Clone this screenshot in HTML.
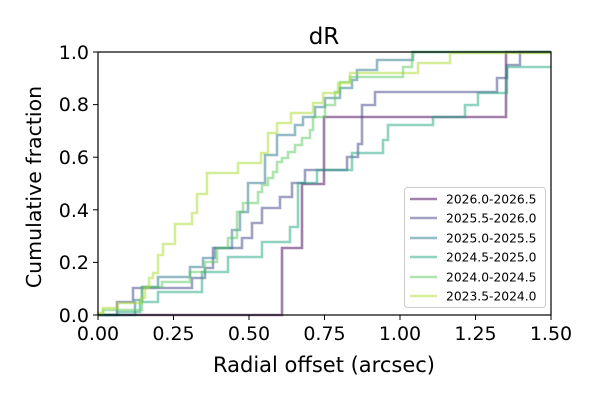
<!DOCTYPE html>
<html><head><style>body{margin:0;background:#fff}svg{display:block}text{font-family:"DejaVu Sans","Liberation Sans",sans-serif}</style></head><body>
<svg width="600" height="400" viewBox="0 0 600 400" xmlns="http://www.w3.org/2000/svg">
<rect width="600" height="400" fill="#fff"/>
<g fill="none" stroke-width="2.6" stroke-opacity="0.5" stroke-linejoin="miter">
<polyline stroke="#440154" points="98,315 282,315 282,248 302,248 302,184 324,184 324,117 506,117 506,52 551,52"/>
<polyline stroke="#414487" points="98,315 117,315 117,302 133,302 133,288 192,288 192,278 205,278 205,268 213,268 213,248 242,248 242,238 252,238 252,223 262,223 262,208 280,208 280,197 292,197 292,183 305,183 305,170 347,170 347,157 358,157 358,144 362,144 362,105 375,105 375,92 497,92 497,78 507,78 507,65 520,65 520,52 551,52"/>
<polyline stroke="#2a788e" points="98,315 135,315 135,300 142,300 142,287 158,287 158,277 190,277 190,267 203,267 203,258 215,258 215,248 232,248 232,230 240,230 240,212 248,212 248,183 265,183 265,155 277,155 277,135 295,135 295,125 303,125 303,117 315,117 315,107 325,107 325,98 340,98 340,88 352,88 352,80 357,80 357,70 377,70 377,60 413,60 413,52 551,52"/>
<polyline stroke="#22a884" points="98,315 118,315 118,312 140,312 140,302 158,302 158,292 202,292 202,272 228,272 228,257 262,257 262,242 290,242 290,227 298,227 298,183 317,183 317,170 352,170 352,153 383,153 383,140 388,140 388,125 433,125 433,117 465,117 465,105 478,105 478,93 507,93 507,67 551,67"/>
<polyline stroke="#5ec962" points="98,315 103,315 103,310 142,310 142,287 162,287 162,282 190,282 190,272 205,272 205,262 217,262 217,248 228,248 228,238 237,238 237,212 243,212 243,203 258,203 258,192 262,192 262,185 268,185 268,178 273,178 273,172 277,172 277,162 282,162 282,158 288,158 288,152 295,152 295,145 302,145 302,138 310,138 310,130 313,130 313,117 325,117 325,105 335,105 335,92 340,92 340,82 350,82 350,77 403,77 403,67 412,67 412,52 551,52"/>
<polyline stroke="#addc30" points="98,315 98,313 103,313 103,308 118,308 118,303 141,303 141,298 145,298 145,288 149,288 149,278 153,278 153,273 158,273 158,255 163,255 163,244 175,244 175,224 192,224 192,213 197,213 197,194 207,194 207,173 238,173 238,163 261,163 261,153 268,153 268,133 277,133 277,123 291,123 291,113 313,113 313,103 323,103 323,93 338,93 338,83 350,83 350,73 418,73 418,63 450,63 450,53 551,53"/>
</g>
<rect x="98" y="52" width="453" height="263" fill="none" stroke="#000" stroke-width="1.2"/>
<g stroke="#000" stroke-width="1">
<line x1="98" y1="315" x2="98" y2="320"/><line x1="173.5" y1="315" x2="173.5" y2="320"/><line x1="249" y1="315" x2="249" y2="320"/><line x1="324.5" y1="315" x2="324.5" y2="320"/><line x1="400" y1="315" x2="400" y2="320"/><line x1="475.5" y1="315" x2="475.5" y2="320"/><line x1="551" y1="315" x2="551" y2="320"/>
<line x1="93" y1="315" x2="98" y2="315"/><line x1="93" y1="262.4" x2="98" y2="262.4"/><line x1="93" y1="209.8" x2="98" y2="209.8"/><line x1="93" y1="157.2" x2="98" y2="157.2"/><line x1="93" y1="104.6" x2="98" y2="104.6"/><line x1="93" y1="52" x2="98" y2="52"/>
</g>
<g font-size="19" text-anchor="middle" fill="#000">
<text x="98" y="340">0.00</text><text x="173.5" y="340">0.25</text><text x="249" y="340">0.50</text><text x="324.5" y="340">0.75</text><text x="400" y="340">1.00</text><text x="475.5" y="340">1.25</text><text x="551" y="340">1.50</text>
</g>
<g font-size="19" text-anchor="end" fill="#000">
<text x="89" y="322">0.0</text><text x="89" y="269">0.2</text><text x="89" y="217">0.4</text><text x="89" y="164">0.6</text><text x="89" y="111">0.8</text><text x="89" y="59">1.0</text>
</g>
<text x="324" y="44" font-size="23" text-anchor="middle">dR</text>
<text x="324" y="372" font-size="21" text-anchor="middle">Radial offset (arcsec)</text>
<text transform="translate(41,187) rotate(-90)" font-size="20.5" text-anchor="middle">Cumulative fraction</text>
<rect x="404.5" y="187.5" width="141" height="120" rx="3" fill="#fff" fill-opacity="0.8" stroke="#ccc"/>
<g stroke-width="2.6" stroke-opacity="0.5">
<line x1="410" y1="199" x2="437" y2="199" stroke="#440154"/>
<line x1="410" y1="218" x2="437" y2="218" stroke="#414487"/>
<line x1="410" y1="238" x2="437" y2="238" stroke="#2a788e"/>
<line x1="410" y1="257" x2="437" y2="257" stroke="#22a884"/>
<line x1="410" y1="277" x2="437" y2="277" stroke="#5ec962"/>
<line x1="410" y1="296" x2="437" y2="296" stroke="#addc30"/>
</g>
<g font-size="12.3" fill="#000">
<text x="446" y="203.5">2026.0-2026.5</text><text x="446" y="222.5">2025.5-2026.0</text><text x="446" y="242.5">2025.0-2025.5</text><text x="446" y="261.5">2024.5-2025.0</text><text x="446" y="281.5">2024.0-2024.5</text><text x="446" y="300.5">2023.5-2024.0</text>
</g>
</svg>
</body></html>
